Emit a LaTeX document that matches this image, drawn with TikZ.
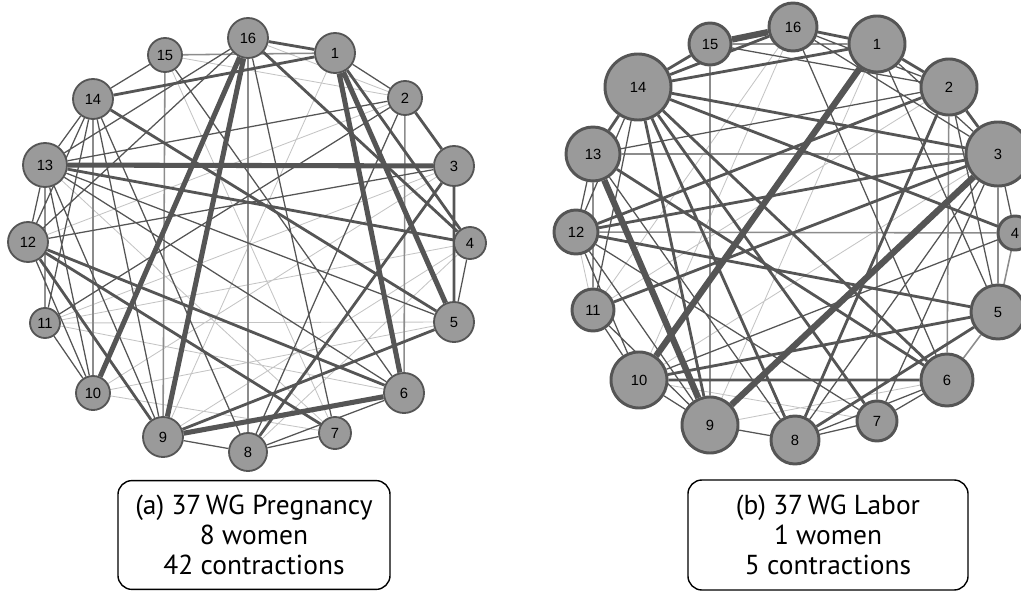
\documentclass[tikz,border=0pt]{standalone}
\usepackage{fontspec}
\setmainfont{PT Sans}
\newfontfamily\numfont{Liberation Sans}
\usetikzlibrary{backgrounds}
\definecolor{NodeGray}{HTML}{9A9A9A}
\definecolor{EdgeDark}{HTML}{555555}
\definecolor{EdgeMid}{HTML}{8C8C8C}
\definecolor{EdgeLight}{HTML}{C4C4C4}

\begin{document}
\begin{tikzpicture}[
    x=0.025cm, y=-0.025cm,
    nd/.style={circle, draw=EdgeDark, fill=NodeGray, line width=1.3pt, inner sep=0pt, font=\numfont\fontsize{10.5}{10.5}\selectfont},
    ndb/.style={nd, line width=2.1pt},
    wthick/.style={draw=EdgeDark, line width=3.6pt},
    wmed/.style={draw=EdgeDark, line width=2pt},
    wthin/.style={draw=EdgeDark, line width=0.9pt},
    wgrey/.style={draw=EdgeMid, line width=1.1pt},
    wlight/.style={draw=EdgeLight, line width=0.6pt},
    caption/.style={draw=black, rounded corners=10pt, line width=1pt, fill=white, align=center, font=\fontsize{19.5}{21.5}\selectfont}
]
  \useasboundingbox (0,0) rectangle (1021,592);

  % ===================== (a) 37 WG Pregnancy =====================
  \node[nd, minimum size=1.0cm]  (a16) at (248,38)  {16};
  \node[nd, minimum size=0.85cm] (a15) at (165,55)  {15};
  \node[nd, minimum size=1.0cm]  (a1)  at (335,53)  {1};
  \node[nd, minimum size=1.0cm]  (a14) at (93,99)   {14};
  \node[nd, minimum size=0.85cm] (a2)  at (405,98)  {2};
  \node[nd, minimum size=1.1cm]  (a13) at (45,165)  {13};
  \node[nd, minimum size=1.0cm]  (a3)  at (454,166) {3};
  \node[nd, minimum size=1.0cm]  (a12) at (28,242)  {12};
  \node[nd, minimum size=0.8cm]  (a4)  at (470,243) {4};
  \node[nd, minimum size=0.75cm] (a11) at (45,323)  {11};
  \node[nd, minimum size=1.0cm]  (a5)  at (454,322) {5};
  \node[nd, minimum size=0.85cm] (a10) at (93,393)  {10};
  \node[nd, minimum size=1.0cm]  (a6)  at (404,393) {6};
  \node[nd, minimum size=1.0cm]  (a9)  at (163,437) {9};
  \node[nd, minimum size=0.8cm]  (a7)  at (335,433) {7};
  \node[nd, minimum size=0.95cm] (a8)  at (248,452) {8};

  \begin{scope}[on background layer]
    \draw[wlight] (a15) -- (a2) (a16) -- (a2) (a11) -- (a6) (a10) -- (a7) (a11) -- (a4)
      (a2) -- (a12) (a4) -- (a8) (a3) -- (a10) (a4) -- (a9) (a15) -- (a7) (a5) -- (a11)
      (a5) -- (a10) (a3) -- (a11) (a1) -- (a9) (a13) -- (a7);
    \draw[wgrey] (a16) -- (a8) (a15) -- (a9) (a14) -- (a10) (a15) -- (a1) (a2) -- (a6);
    \draw[wthin] (a15) -- (a14) (a14) -- (a13) (a13) -- (a12) (a16) -- (a13) (a16) -- (a7)
      (a15) -- (a6) (a2) -- (a13) (a2) -- (a11) (a2) -- (a8) (a13) -- (a5) (a13) -- (a6)
      (a3) -- (a12) (a8) -- (a7) (a8) -- (a6) (a9) -- (a8) (a5) -- (a4) (a14) -- (a9)
      (a14) -- (a12) (a13) -- (a10) (a12) -- (a10) (a13) -- (a11) (a11) -- (a10)
      (a14) -- (a11) (a13) -- (a9) (a1) -- (a2) (a16) -- (a12) (a14) -- (a8);
    \draw[wmed] (a12) -- (a6) (a12) -- (a7) (a3) -- (a8) (a3) -- (a5) (a14) -- (a5)
      (a12) -- (a9) (a9) -- (a5) (a16) -- (a1) (a14) -- (a1) (a2) -- (a3) (a1) -- (a4)
      (a13) -- (a4) (a16) -- (a4);
    \draw[wthick] (a16) -- (a9) (a16) -- (a10) (a1) -- (a5) (a1) -- (a6) (a13) -- (a3)
      (a9) -- (a6);
  \end{scope}

  \node[caption, minimum width=6.8cm, minimum height=2.72cm] (capa) at (254,535)
    {(a) 37\,WG Pregnancy\\ 8 women\\ 42 contractions};

  % ===================== (b) 37 WG Labor =====================
  \node[ndb, minimum size=1.2cm]  (b16) at (793,27)   {16};
  \node[ndb, minimum size=1.05cm] (b15) at (710,44)   {15};
  \node[ndb, minimum size=1.4cm]  (b1)  at (877,44)   {1};
  \node[ndb, minimum size=1.65cm] (b14) at (638,87)   {14};
  \node[ndb, minimum size=1.4cm]  (b2)  at (949,87)   {2};
  \node[ndb, minimum size=1.35cm] (b13) at (593,154)  {13};
  \node[ndb, minimum size=1.6cm]  (b3)  at (998,154)  {3};
  \node[ndb, minimum size=1.1cm]  (b12) at (576,232)  {12};
  \node[ndb, minimum size=0.85cm] (b4)  at (1015,233) {4};
  \node[ndb, minimum size=1.05cm] (b11) at (593,310)  {11};
  \node[ndb, minimum size=1.35cm] (b5)  at (998,312)  {5};
  \node[ndb, minimum size=1.4cm]  (b10) at (639,380)  {10};
  \node[ndb, minimum size=1.3cm]  (b6)  at (947,380)  {6};
  \node[ndb, minimum size=1.4cm]  (b9)  at (710,425)  {9};
  \node[ndb, minimum size=1.0cm]  (b7)  at (877,421)  {7};
  \node[ndb, minimum size=1.2cm]  (b8)  at (795,440)  {8};

  \begin{scope}[on background layer]
    \draw[wlight] (b16) -- (b10) (b1) -- (b9) (b10) -- (b7) (b11) -- (b12) (b3) -- (b10)
      (b11) -- (b16) (b9) -- (b6) (b2) -- (b11);
    \draw[wgrey] (b13) -- (b3) (b12) -- (b4) (b15) -- (b9) (b1) -- (b7) (b2) -- (b6)
      (b3) -- (b5) (b5) -- (b4) (b5) -- (b6);
    \draw[wthin] (b1) -- (b15) (b1) -- (b3) (b1) -- (b5) (b16) -- (b6) (b16) -- (b3)
      (b3) -- (b8) (b3) -- (b4) (b3) -- (b7) (b6) -- (b8) (b7) -- (b8) (b6) -- (b7)
      (b12) -- (b14) (b12) -- (b13) (b12) -- (b10) (b12) -- (b9) (b11) -- (b9)
      (b11) -- (b10) (b11) -- (b14) (b13) -- (b11) (b13) -- (b8) (b2) -- (b5)
      (b2) -- (b16) (b2) -- (b15) (b10) -- (b4) (b10) -- (b9) (b12) -- (b7)
      (b9) -- (b8) (b13) -- (b2);
    \draw[wmed] (b1) -- (b2) (b2) -- (b3) (b14) -- (b15) (b14) -- (b16) (b14) -- (b1)
      (b14) -- (b3) (b14) -- (b4) (b14) -- (b6) (b14) -- (b8) (b14) -- (b9) (b14) -- (b7)
      (b2) -- (b8) (b6) -- (b10) (b3) -- (b12) (b12) -- (b5) (b10) -- (b5) (b11) -- (b3)
      (b5) -- (b8) (b13) -- (b14) (b13) -- (b6) (b2) -- (b12) (b1) -- (b16);
    \draw[wthick, line width=4.5pt] (b1) -- (b10) (b3) -- (b9) (b13) -- (b9) (b15) -- (b16);
  \end{scope}

  \node[caption, minimum width=7.0cm, minimum height=2.75cm] (capb) at (828,535)
    {(b) 37\,WG Labor\\ 1 women\\ 5 contractions};

\end{tikzpicture}
\end{document}
